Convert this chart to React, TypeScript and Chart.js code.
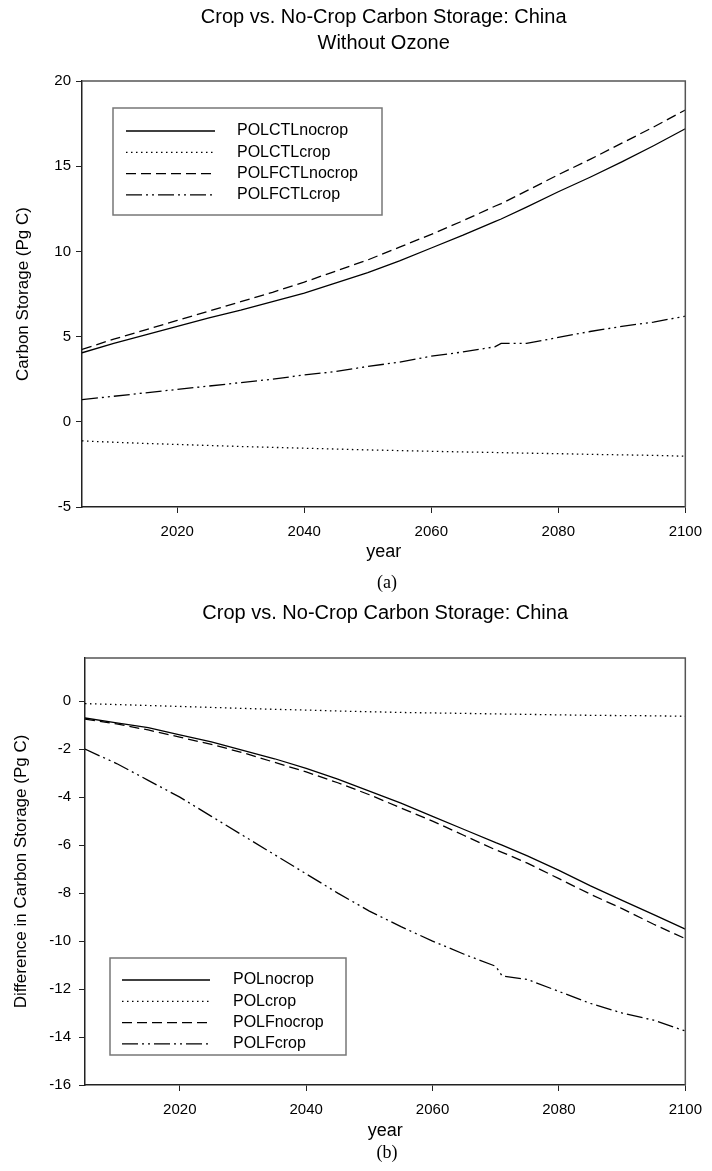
import { useEffect, useRef } from "react";
import { Chart, registerables } from "chart.js";

Chart.register(...registerables);

// ---- data -------------------------------------------------------------
const years = [
  2005, 2010, 2015, 2020, 2025, 2030, 2035, 2040, 2045, 2050, 2055,
  2060, 2065, 2070, 2071, 2075, 2080, 2085, 2090, 2095, 2100,
];

// (a) carbon storage without ozone, Pg C
const polctlNocrop = [
  4.05, 4.6, 5.1, 5.6, 6.1, 6.55, 7.05, 7.55, 8.15, 8.75, 9.45,
  10.2, 10.95, 11.75, 11.9, 12.6, 13.5, 14.35, 15.25, 16.2, 17.2,
];
const polctlCrop = [
  -1.12, -1.2, -1.27, -1.33, -1.39, -1.45, -1.5, -1.55, -1.6, -1.65, -1.69,
  -1.73, -1.77, -1.8, -1.81, -1.84, -1.87, -1.91, -1.94, -1.97, -2.02,
];
const polfctlNocrop = [
  4.25, 4.85, 5.4, 5.95, 6.5, 7.05, 7.6, 8.2, 8.85, 9.5, 10.25,
  11.0, 11.8, 12.65, 12.8, 13.55, 14.5, 15.4, 16.35, 17.3, 18.3,
];
const polfctlCrop = [
  1.3, 1.5, 1.7, 1.9, 2.1, 2.3, 2.5, 2.75, 2.95, 3.25, 3.5,
  3.85, 4.1, 4.4, 4.6, 4.6, 4.95, 5.3, 5.6, 5.85, 6.2,
];

// (b) difference in carbon storage, Pg C
const polNocrop = [
  -0.7, -0.9, -1.1, -1.4, -1.7, -2.05, -2.4, -2.8, -3.25, -3.75, -4.25,
  -4.8, -5.35, -5.9, -6.0, -6.45, -7.05, -7.7, -8.3, -8.9, -9.5,
];
const polCrop = [
  -0.1, -0.14, -0.18, -0.22, -0.26, -0.3, -0.34, -0.37, -0.41, -0.44, -0.47,
  -0.49, -0.51, -0.53, -0.535, -0.55, -0.57, -0.59, -0.6, -0.61, -0.63,
];
const polfNocrop = [
  -0.75, -0.95, -1.2, -1.5, -1.8, -2.15, -2.55, -2.95, -3.4, -3.9, -4.45,
  -5.0, -5.6, -6.2, -6.3, -6.75, -7.4, -8.05, -8.65, -9.3, -9.9,
];
const polfCrop = [
  -2.0, -2.6, -3.3, -4.0, -4.8, -5.6, -6.4, -7.2, -8.0, -8.75, -9.4,
  -10.0, -10.55, -11.05, -11.45, -11.6, -12.1, -12.6, -13.0, -13.3, -13.75,
];

const xTickValues = [2020, 2040, 2060, 2080, 2100];
const yTickValuesA = [-5, 0, 5, 10, 15, 20];
const yTickValuesB = [-16, -14, -12, -10, -8, -6, -4, -2, 0];

const titleA = ["Crop vs. No-Crop Carbon Storage: China", "Without Ozone"];
const titleB = ["Crop vs. No-Crop Carbon Storage: China"];

// ---- styles -----------------------------------------------------------
const FONT = "'Liberation Sans', Arial, Helvetica, sans-serif";
const SERIF = "'Liberation Serif', 'Times New Roman', Times, serif";
const INK = "#000";

const DASH_SOLID: number[] = [];
const DASH_DOT = [1.5, 3.5];
const DASH_DASH = [10, 5];
const DASH_DASH_DOT_DOT = [16, 4, 2, 4, 2, 4];

const series = (label: string, ys: number[], dash: number[]) => ({
  label,
  data: years.map((x, i) => ({ x, y: ys[i] })),
  borderColor: INK,
  borderWidth: 1.3,
  borderDash: dash,
  pointRadius: 0,
  fill: false,
  tension: 0,
});

// frame on the top and right of the plotting area
const framePlugin = {
  id: "plotFrame",
  afterDraw(chart: any) {
    const { ctx, chartArea: ca } = chart;
    ctx.save();
    ctx.strokeStyle = "#555";
    ctx.lineWidth = 1.5;
    ctx.beginPath();
    ctx.moveTo(ca.left, ca.top);
    ctx.lineTo(ca.right, ca.top);
    ctx.lineTo(ca.right, ca.bottom);
    ctx.stroke();
    ctx.restore();
  },
};

// chart title centred over the plotting area
const makeTitlePlugin = (lines: string[], offsetAbovePlot: number, lineGap: number) => ({
  id: "plotTitle",
  afterDraw(chart: any) {
    const { ctx, chartArea: ca } = chart;
    const cx = (ca.left + ca.right) / 2;
    ctx.save();
    ctx.fillStyle = INK;
    ctx.font = `20px ${FONT}`;
    ctx.textAlign = "center";
    ctx.textBaseline = "middle";
    lines.forEach((t, i) => ctx.fillText(t, cx, ca.top - offsetAbovePlot + i * lineGap));
    ctx.restore();
  },
});

type LegendPlace = {
  dx: number;
  dy: number;
  fromBottom: boolean;
  w: number;
  h: number;
  firstRow: number;
  rowGap: number;
  sampleX0: number;
  sampleX1: number;
  textX: number;
};

// boxed legend drawn inside the plotting area
const makeLegendPlugin = (place: LegendPlace) => ({
  id: "boxedLegend",
  afterDraw(chart: any) {
    const { ctx, chartArea: ca } = chart;
    const left = ca.left + place.dx;
    const top = place.fromBottom ? ca.bottom - place.dy - place.h : ca.top + place.dy;
    ctx.save();
    ctx.fillStyle = "#fff";
    ctx.fillRect(left, top, place.w, place.h);
    ctx.strokeStyle = "#777";
    ctx.lineWidth = 1.5;
    ctx.strokeRect(left, top, place.w, place.h);
    chart.data.datasets.forEach((ds: any, i: number) => {
      const y = top + place.firstRow + i * place.rowGap;
      ctx.beginPath();
      ctx.setLineDash(ds.borderDash || []);
      ctx.lineWidth = 1.3;
      ctx.strokeStyle = INK;
      ctx.moveTo(left + place.sampleX0, y);
      ctx.lineTo(left + place.sampleX1, y);
      ctx.stroke();
      ctx.setLineDash([]);
      ctx.fillStyle = INK;
      ctx.font = `16px ${FONT}`;
      ctx.textBaseline = "middle";
      ctx.textAlign = "left";
      ctx.fillText(ds.label, left + place.textX, y);
    });
    ctx.restore();
  },
});

const fixedTicks = (values: number[]) => (scale: any) => {
  scale.ticks = values.map((value) => ({ value }));
};

const axisGrid = {
  display: true,
  drawOnChartArea: false,
  drawTicks: true,
  tickLength: 6,
  tickColor: "#222",
  tickWidth: 1,
};

type PanelSpec = {
  height: number;
  title: string[];
  titleOffset: number;
  padTop: number;
  datasets: any[];
  yMin: number;
  yMax: number;
  yTicks: number[];
  yTitle: string;
  yWidth: number;
  yTitlePad: number;
  yTickPad: number;
  xHeight: number;
  padRight: number;
  padBottom: number;
  legend: LegendPlace;
};

function Panel({ spec }: { spec: PanelSpec }) {
  const ref = useRef<HTMLCanvasElement | null>(null);

  useEffect(() => {
    if (!ref.current) return;
    const chart = new Chart(ref.current, {
      type: "line",
      data: { datasets: spec.datasets },
      plugins: [
        framePlugin,
        makeTitlePlugin(spec.title, spec.titleOffset, 26),
        makeLegendPlugin(spec.legend),
      ],
      options: {
        animation: false,
        responsive: false,
        devicePixelRatio: 1,
        layout: {
          padding: { left: 0, top: spec.padTop, right: spec.padRight, bottom: spec.padBottom },
        },
        plugins: {
          legend: { display: false },
          tooltip: { enabled: false },
          title: { display: false },
        },
        scales: {
          x: {
            type: "linear",
            min: 2005,
            max: 2100,
            afterBuildTicks: fixedTicks(xTickValues),
            afterFit: (s: any) => {
              s.height = spec.xHeight;
            },
            grid: axisGrid,
            border: { display: true, color: "#222", width: 1.5 },
            ticks: {
              color: INK,
              font: { family: FONT, size: 15 },
              padding: 10,
              maxRotation: 0,
              autoSkip: false,
              callback: (v: any) => String(v),
            },
            title: {
              display: true,
              text: "year",
              color: INK,
              font: { family: FONT, size: 18 },
              padding: { top: 0, bottom: 0 },
            },
          },
          y: {
            type: "linear",
            min: spec.yMin,
            max: spec.yMax,
            afterBuildTicks: fixedTicks(spec.yTicks),
            afterFit: (s: any) => {
              s.width = spec.yWidth;
            },
            grid: axisGrid,
            border: { display: true, color: "#222", width: 1.5 },
            ticks: {
              color: INK,
              font: { family: FONT, size: 15 },
              padding: spec.yTickPad,
              autoSkip: false,
              callback: (v: any) => String(v),
            },
            title: {
              display: true,
              text: spec.yTitle,
              color: INK,
              font: { family: FONT, size: 17 },
              padding: { top: spec.yTitlePad, bottom: 0 },
            },
          },
        },
      } as any,
    });
    return () => chart.destroy();
  }, [spec]);

  return <canvas ref={ref} width={712} height={spec.height} style={{ display: "block" }} />;
}

const panelA: PanelSpec = {
  height: 590,
  title: titleA,
  titleOffset: 64,
  padTop: 81,
  datasets: [
    series("POLCTLnocrop", polctlNocrop, DASH_SOLID),
    series("POLCTLcrop", polctlCrop, DASH_DOT),
    series("POLFCTLnocrop", polfctlNocrop, DASH_DASH),
    series("POLFCTLcrop", polfctlCrop, DASH_DASH_DOT_DOT),
  ],
  yMin: -5,
  yMax: 20,
  yTicks: yTickValuesA,
  yTitle: "Carbon Storage (Pg C)",
  yWidth: 82,
  yTitlePad: 13,
  yTickPad: 5,
  xHeight: 56,
  padRight: 21,
  padBottom: 27,
  legend: {
    dx: 31,
    dy: 27,
    fromBottom: false,
    w: 269,
    h: 107,
    firstRow: 23,
    rowGap: 21.3,
    sampleX0: 13,
    sampleX1: 102,
    textX: 124,
  },
};

const panelB: PanelSpec = {
  height: 581,
  title: titleB,
  titleOffset: 45,
  padTop: 68,
  datasets: [
    series("POLnocrop", polNocrop, DASH_SOLID),
    series("POLcrop", polCrop, DASH_DOT),
    series("POLFnocrop", polfNocrop, DASH_DASH),
    series("POLFcrop", polfCrop, DASH_DASH_DOT_DOT),
  ],
  yMin: -16,
  yMax: 1.8,
  yTicks: yTickValuesB,
  yTitle: "Difference in Carbon Storage (Pg C)",
  yWidth: 85,
  yTitlePad: 11,
  yTickPad: 8,
  xHeight: 57,
  padRight: 19,
  padBottom: 29,
  legend: {
    dx: 25,
    dy: 30,
    fromBottom: true,
    w: 236,
    h: 97,
    firstRow: 22,
    rowGap: 21.3,
    sampleX0: 12,
    sampleX1: 100,
    textX: 123,
  },
};

const captionStyle = (top: number): React.CSSProperties => ({
  position: "absolute",
  left: 287,
  width: 200,
  top,
  textAlign: "center",
  fontFamily: SERIF,
  fontSize: 18,
  lineHeight: "20px",
  color: INK,
});

export default function App() {
  return (
    <div
      style={{
        position: "absolute",
        left: 0,
        top: 0,
        width: 712,
        height: 1171,
        background: "#fff",
        overflow: "hidden",
      }}
    >
      <div style={{ position: "absolute", left: 0, top: 0 }}>
        <Panel spec={panelA} />
      </div>
      <div style={captionStyle(572)}>(a)</div>
      <div style={{ position: "absolute", left: 0, top: 590 }}>
        <Panel spec={panelB} />
      </div>
      <div style={captionStyle(1142)}>(b)</div>
    </div>
  );
}
